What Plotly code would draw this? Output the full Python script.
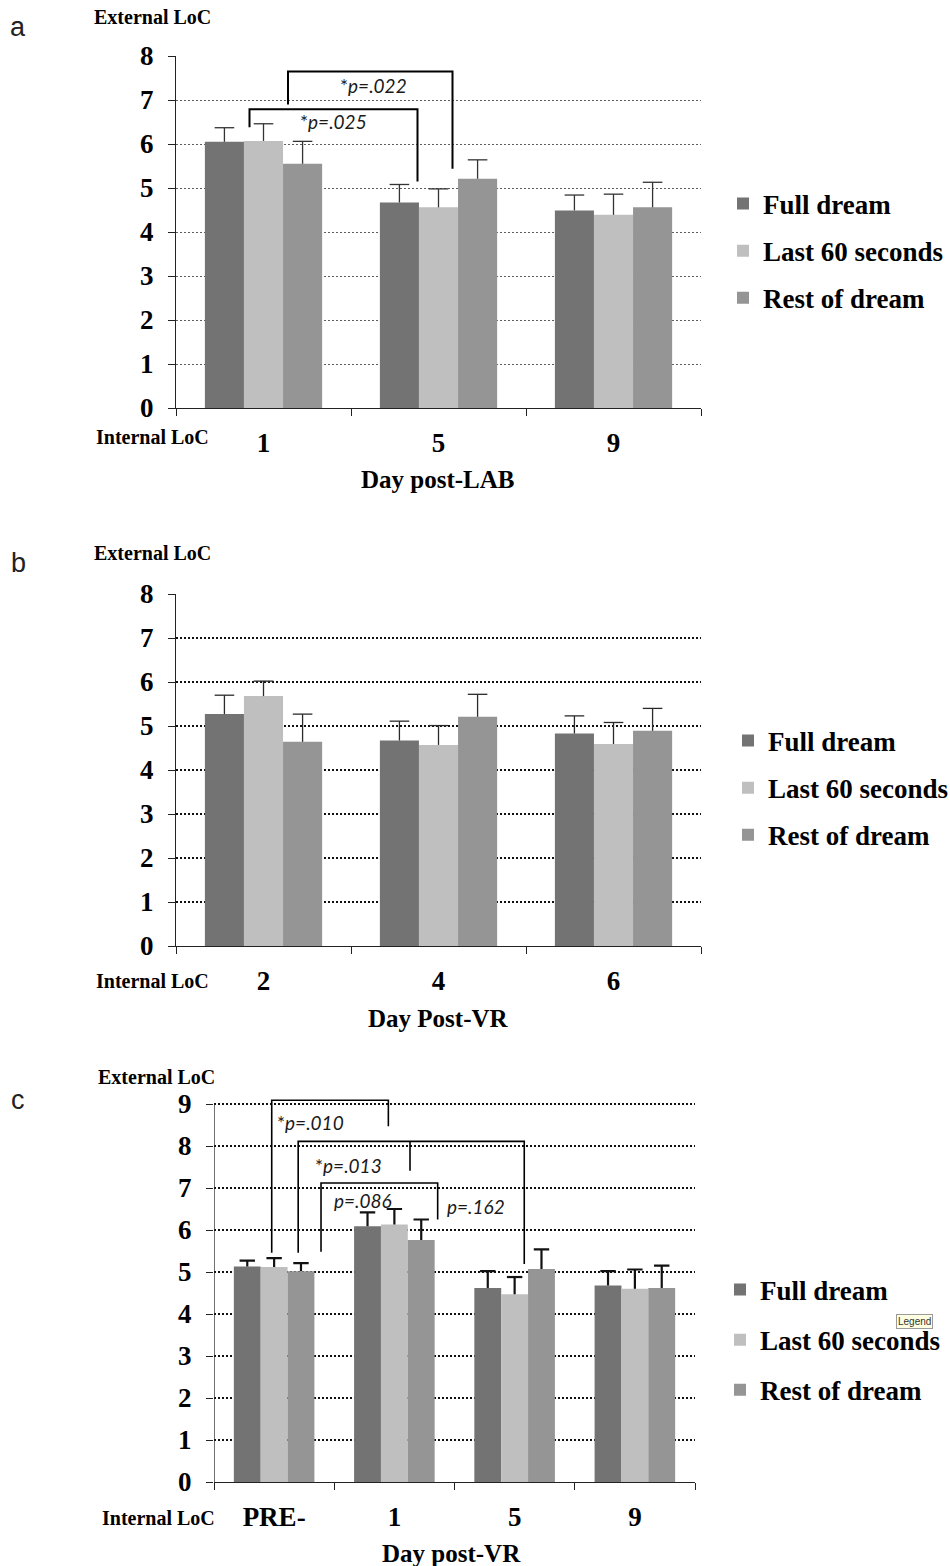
import plotly.graph_objects as go

W, H = 950, 1566

series = ["Full dream", "Last 60 seconds", "Rest of dream"]
colors = ["#737373", "#bfbfbf", "#959595"]

# ---- panel a : Day post-LAB ----
a_days = ["1", "5", "9"]
a_full = [6.05, 4.67, 4.49]
a_full_err = [0.32, 0.41, 0.35]
a_last = [6.07, 4.56, 4.39]
a_last_err = [0.39, 0.42, 0.47]
a_rest = [5.55, 5.21, 4.56]
a_rest_err = [0.51, 0.43, 0.57]

# ---- panel b : Day Post-VR ----
b_days = ["2", "4", "6"]
b_full = [5.27, 4.67, 4.83]
b_full_err = [0.43, 0.44, 0.40]
b_last = [5.68, 4.57, 4.59]
b_last_err = [0.34, 0.44, 0.49]
b_rest = [4.64, 5.21, 4.89]
b_rest_err = [0.63, 0.51, 0.51]

# ---- panel c : Day post-VR ----
c_days = ["PRE-", "1", "5", "9"]
c_full = [5.13, 6.09, 4.62, 4.68]
c_full_err = [0.14, 0.33, 0.40, 0.34]
c_last = [5.12, 6.13, 4.47, 4.60]
c_last_err = [0.21, 0.37, 0.41, 0.46]
c_rest = [5.02, 5.76, 5.07, 4.62]
c_rest_err = [0.19, 0.49, 0.47, 0.53]

# significance brackets: (x_left, y_left_bottom, y_top, x_right, y_right_bottom)
a_brackets = [(-0.08, 6.38, 6.79, 0.88, 5.15), (0.14, 6.90, 7.65, 1.08, 5.44)]
a_labels = [("*<i>p=.025</i>", 0.40, 6.52), ("*<i>p=.022</i>", 0.63, 7.34)]
c_brackets = [(-0.02, 5.46, 9.09, 0.95, 8.47), (0.20, 5.46, 8.11, 2.08, 5.19),
              (0.39, 5.48, 7.12, 1.36, 6.25)]
c_midticks = [(1.13, 8.11, 7.41)]
c_labels = [("*<i>p=.010</i>", 0.30, 8.57), ("*<i>p=.013</i>", 0.62, 7.54),
            ("<i>p=.086</i>", 0.74, 6.71), ("<i>p=.162</i>", 1.68, 6.57)]

SERIF = "Liberation Serif"
BARGAP = 0.33


def px(x):
    return x / W


def py(y):
    return 1 - y / H


fig = go.Figure()

panels = [
    dict(days=a_days, vals=[a_full, a_last, a_rest], errs=[a_full_err, a_last_err, a_rest_err],
         xa="x", ya="y", lg="legend", errw=1.3, errc="#333333", capw=7),
    dict(days=b_days, vals=[b_full, b_last, b_rest], errs=[b_full_err, b_last_err, b_rest_err],
         xa="x2", ya="y2", lg="legend2", errw=1.3, errc="#2a2a2a", capw=7),
    dict(days=c_days, vals=[c_full, c_last, c_rest], errs=[c_full_err, c_last_err, c_rest_err],
         xa="x3", ya="y3", lg="legend3", errw=2.2, errc="#111111", capw=5.5),
]

bw = (1 - BARGAP) / len(series)
for p in panels:
    xs = list(range(len(p["days"])))
    for i, name in enumerate(series):
        fig.add_trace(go.Bar(
            x=xs, y=p["vals"][i], name=name,
            marker=dict(color=colors[i], line=dict(width=0)),
            error_y=dict(type="data", array=p["errs"][i], arrayminus=[0] * len(xs),
                         symmetric=False, color=p["errc"], thickness=p["errw"], width=0),
            xaxis=p["xa"], yaxis=p["ya"], legend=p["lg"], legendgroup=p["lg"] + name,
            hoverinfo="skip",
        ))
    # caps on top of the (upper-only) error bars
    for i, name in enumerate(series):
        cx = [x + (i - 1) * bw for x in xs]
        cy = [v + e for v, e in zip(p["vals"][i], p["errs"][i])]
        fig.add_trace(go.Scatter(
            x=cx, y=cy, mode="markers", showlegend=False, hoverinfo="skip",
            marker=dict(symbol="line-ew", size=2 * p["capw"],
                        line=dict(color=p["errc"], width=p["errw"])),
            xaxis=p["xa"], yaxis=p["ya"],
        ))

tickfont = dict(family=SERIF, size=27, color="black", weight="bold")


def xaxis(dom, days, anchor):
    n = len(days)
    return dict(domain=dom, anchor=anchor, range=[-0.5, n - 0.5], automargin=False,
                tickvals=list(range(n)), ticktext=days, ticks="", tickfont=tickfont,
                ticklabelstandoff=10,
                showline=True, linecolor="#222", linewidth=1.3, showgrid=False, zeroline=False,
                minor=dict(tickvals=[k - 0.5 for k in range(n + 1)], ticks="outside",
                           ticklen=7, tickcolor="#222", tickwidth=1.2, showgrid=False),
                fixedrange=True)


def yaxis(dom, rng, anchor, gridcolor, gridwidth, griddash, nmax, showline=True):
    return dict(domain=dom, anchor=anchor, range=rng, tickvals=list(range(nmax + 1)),
                automargin=False,
                ticks="outside", ticklen=7, tickcolor="#222", tickwidth=1.2,
                tickfont=tickfont, ticklabelstandoff=9,
                showline=showline, linecolor="#222", linewidth=1.3,
                showgrid=True, gridcolor=gridcolor, gridwidth=gridwidth, griddash=griddash,
                zeroline=False, fixedrange=True)


# pixel geometry
a_x = [px(176), px(701)]
a_y = [py(408), py(56)]
b_x = [px(176), px(701)]
b_y = [py(946), py(594)]
c_unit = 42.0
c_top = 9.15
c_x = [px(214), px(695)]
c_y = [py(1482), py(1482 - c_top * c_unit)]

fig.update_layout(
    width=W, height=H, autosize=False,
    margin=dict(l=0, r=0, t=0, b=0, pad=0, autoexpand=False),
    paper_bgcolor="white", plot_bgcolor="white",
    barmode="group", bargap=BARGAP, bargroupgap=0,
    xaxis=xaxis(a_x, a_days, "y"),
    yaxis=yaxis(a_y, [0, 8], "x", "#5e5e5e", 1.3, "2px,2px", 8),
    xaxis2=xaxis(b_x, b_days, "y2"),
    yaxis2=yaxis(b_y, [0, 8], "x2", "#111111", 2, "2px,2px", 8),
    xaxis3=xaxis(c_x, c_days, "y3"),
    yaxis3=yaxis(c_y, [0, c_top], "x3", "#111111", 2, "2px,2px", 9, showline=False),
    hovermode=False,
)

legfont = dict(family=SERIF, size=27, color="black", weight="bold")
for key, tx, my, gap in [("legend", 763, 251, 9), ("legend2", 768, 788, 9), ("legend3", 760, 1340, 12)]:
    fig.update_layout({key: dict(x=px(tx - 40), xanchor="left", y=py(my), yanchor="middle",
                                 font=legfont, tracegroupgap=gap, itemwidth=30,
                                 bgcolor="rgba(0,0,0,0)", traceorder="grouped")})

shapes = []


def add_bracket(b, xr, yr, width):
    xl, ylb, yt, xrr, yrb = b
    pts = [(xl, ylb), (xl, yt), (xrr, yt), (xrr, yrb)]
    path = "M " + " L ".join(f"{x},{y}" for x, y in pts)
    shapes.append(dict(type="path", path=path, xref=xr, yref=yr,
                       line=dict(color="black", width=width)))


for b in a_brackets:
    add_bracket(b, "x", "y", 2)
for b in c_brackets:
    add_bracket(b, "x3", "y3", 1.6)
for (x, y0, y1) in c_midticks:
    shapes.append(dict(type="line", xref="x3", yref="y3", x0=x, x1=x, y0=y0, y1=y1,
                       line=dict(color="black", width=1.6)))
# y-axis line for panel c (ends at 9)
shapes.append(dict(type="line", xref="x3", yref="y3", x0=-0.5, x1=-0.5, y0=0, y1=9,
                   line=dict(color="#222", width=1.3)))
fig.update_layout(shapes=shapes)

ann = []
pfont = dict(family="Lato", size=19, color="#1a1a1a")
for t, x, y in a_labels:
    ann.append(dict(text=t, x=x, y=y, xref="x", yref="y", showarrow=False, font=pfont))
for t, x, y in c_labels:
    ann.append(dict(text=t, x=x, y=y, xref="x3", yref="y3", showarrow=False, font=pfont))

letter_font = dict(family="Liberation Sans", size=27, color="#222")
for t, x, y in [("a", 18, 27), ("b", 18, 563), ("c", 18, 1100)]:
    ann.append(dict(text=t, x=px(x), y=py(y), xref="paper", yref="paper", showarrow=False,
                    font=letter_font, xanchor="center", yanchor="middle"))

small = dict(family=SERIF, size=20, color="black", weight="bold")
for t, x, y in [("External LoC", 152, 17), ("External LoC", 152, 553), ("External LoC", 156, 1077),
                ("Internal LoC", 152, 437), ("Internal LoC", 152, 981), ("Internal LoC", 158, 1518)]:
    ann.append(dict(text=t, x=px(x), y=py(y), xref="paper", yref="paper", showarrow=False,
                    font=small, xanchor="center", yanchor="middle"))

big = dict(family=SERIF, size=25, color="black", weight="bold")
for t, x, y in [("Day post-LAB", 438, 480), ("Day Post-VR", 438, 1018), ("Day post-VR", 451, 1553)]:
    ann.append(dict(text=t, x=px(x), y=py(y), xref="paper", yref="paper", showarrow=False,
                    font=big, xanchor="center", yanchor="middle"))

# tooltip captured in the screenshot
ann.append(dict(text="Legend", x=px(914), y=py(1321), xref="paper", yref="paper", showarrow=False,
                font=dict(family="Liberation Sans", size=10, color="#333"),
                bgcolor="#ffffe1", bordercolor="#9a9a9a", borderwidth=1, borderpad=1,
                xanchor="center", yanchor="middle"))

fig.update_layout(annotations=ann)

fig.write_html("out.html", config={"displayModeBar": False})
